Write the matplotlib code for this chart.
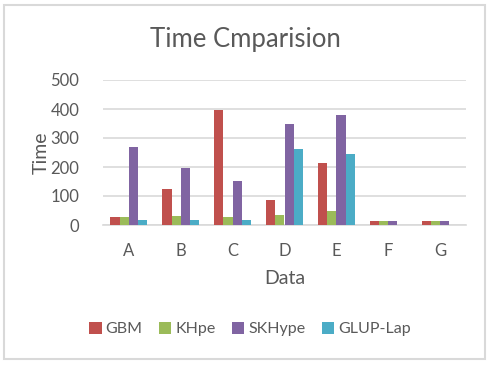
import matplotlib
matplotlib.use("Agg")
import matplotlib.pyplot as plt
from matplotlib.patches import Rectangle
import numpy as np

categories = ["A", "B", "C", "D", "E", "F", "G"]
gbm = [28, 125, 395, 87, 214, 14, 14]
khpe = [28, 32, 28, 34, 48, 14, 14]
skhype = [270, 198, 152, 350, 380, 14, 14]
glup_lap = [18, 18, 18, 262, 245, 0, 0]

series_names = ["GBM", "KHpe", "SKHype", "GLUP-Lap"]
colors = ["#C0504D", "#9BBB59", "#8064A2", "#4BACC6"]
text_color = "#595959"
grid_color = "#D9D9D9"

plt.rcParams["font.family"] = ["Lato", "DejaVu Sans"]

fig = plt.figure(figsize=(4.92, 3.66), dpi=100)
ax = fig.add_axes([103 / 492, 1 - 225 / 366, 363 / 492, 145 / 366])

x = np.arange(len(categories))
width = 0.178
all_series = [gbm, khpe, skhype, glup_lap]
for i, (vals, name, col) in enumerate(zip(all_series, series_names, colors)):
    ax.bar(x + (i - 1.5) * width, vals, width, color=col, label=name, zorder=3)

ax.set_xlim(-0.5, len(categories) - 0.5)
ax.set_ylim(0, 500)
ax.set_yticks([0, 100, 200, 300, 400, 500])
ax.set_xticks(x)
ax.set_xticklabels(categories)
ax.tick_params(axis="both", length=0, colors=text_color, labelsize=12)
ax.tick_params(axis="y", pad=17)
ax.tick_params(axis="x", pad=13)
ax.grid(axis="y", color=grid_color, linewidth=1.2, zorder=0)
for side in ["top", "right", "left"]:
    ax.spines[side].set_visible(False)
ax.spines["bottom"].set_color(grid_color)
ax.spines["bottom"].set_linewidth(1.2)

ax.set_ylabel("Time", color=text_color, fontsize=14)
ax.yaxis.set_label_coords((50 - 103) / 363, 0.5)
ax.set_xlabel("Data", color=text_color, fontsize=14, labelpad=8)
fig.text(245 / 492, 1 - 40 / 366, "Time Cmparision", ha="center", va="center",
         color=text_color, fontsize=18.5)

fig.legend(loc="center", bbox_to_anchor=(250 / 492, 1 - 329 / 366), ncol=4,
           frameon=False, fontsize=11.5, labelcolor=text_color,
           handlelength=0.8, handleheight=0.8, handletextpad=0.25,
           columnspacing=1.0)

# outer chart border
fig.patches.append(Rectangle((4 / 492, 1 - 359 / 366), 481 / 492, 354 / 366,
                             transform=fig.transFigure, fill=False,
                             edgecolor=grid_color, linewidth=1.5))

fig.savefig("out.png", dpi=100)
